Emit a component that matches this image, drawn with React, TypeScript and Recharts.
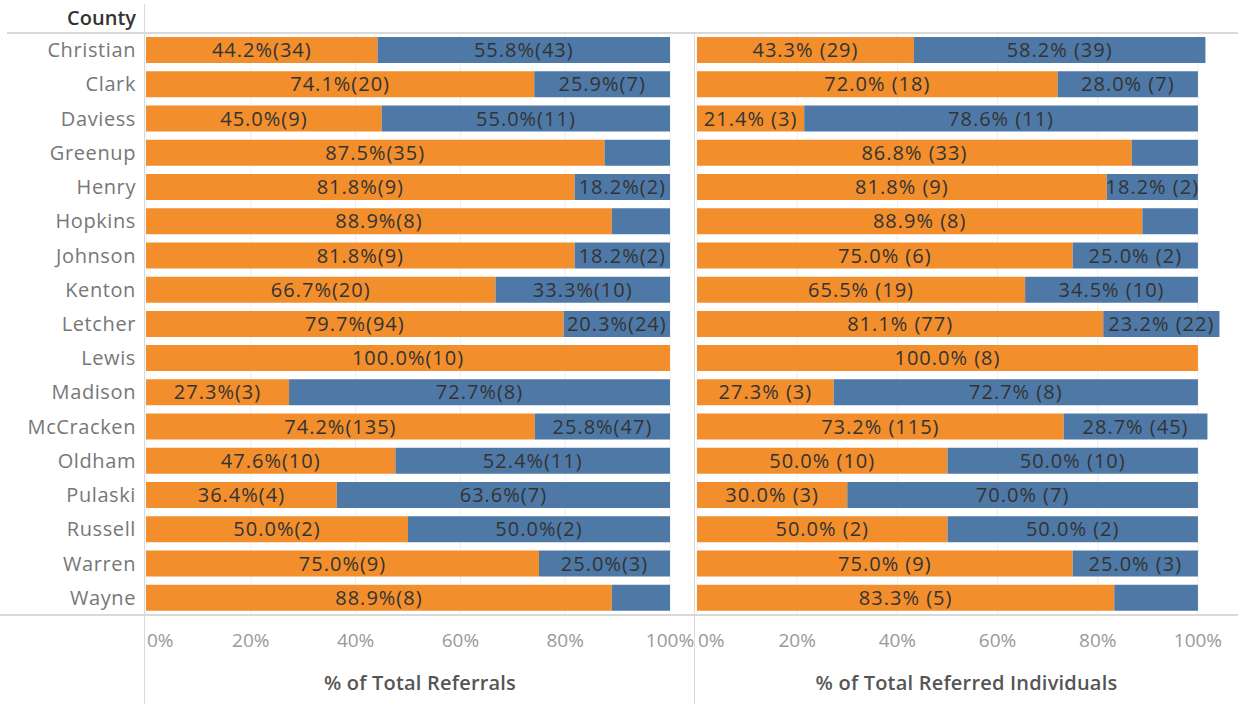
import React from "react";
import { BarChart, Bar, XAxis, YAxis, CartesianGrid, LabelList } from "recharts";

const counties = [
  "Christian", "Clark", "Daviess", "Greenup", "Henry", "Hopkins", "Johnson", "Kenton", "Letcher",
  "Lewis", "Madison", "McCracken", "Oldham", "Pulaski", "Russell", "Warren", "Wayne",
];

// % of Total Referrals
const refOrangePct = [0.442, 0.741, 0.45, 0.875, 0.818, 0.889, 0.818, 0.667, 0.797, 1.0, 0.273, 0.742, 0.476, 0.364, 0.5, 0.75, 0.889];
const refOrangeN = [34, 20, 9, 35, 9, 8, 9, 20, 94, 10, 3, 135, 10, 4, 2, 9, 8];
const refBluePct = [0.558, 0.259, 0.55, 0.125, 0.182, 0.111, 0.182, 0.333, 0.203, 0, 0.727, 0.258, 0.524, 0.636, 0.5, 0.25, 0.111];
const refBlueN = [43, 7, 11, 5, 2, 1, 2, 10, 24, 0, 8, 47, 11, 7, 2, 3, 1];

// % of Total Referred Individuals
const indOrangePct = [0.433, 0.72, 0.214, 0.868, 0.818, 0.889, 0.75, 0.655, 0.811, 1.0, 0.273, 0.732, 0.5, 0.3, 0.5, 0.75, 0.833];
const indOrangeN = [29, 18, 3, 33, 9, 8, 6, 19, 77, 8, 3, 115, 10, 3, 2, 9, 5];
const indBluePct = [0.582, 0.28, 0.786, 0.132, 0.182, 0.111, 0.25, 0.345, 0.232, 0, 0.727, 0.287, 0.5, 0.7, 0.5, 0.25, 0.167];
const indBlueN = [39, 7, 11, 5, 2, 1, 2, 10, 22, 0, 8, 45, 10, 7, 2, 3, 1];

const pctTicks = [0, 0.2, 0.4, 0.6, 0.8, 1];

const ORANGE = "#F28E2B";
const BLUE = "#4E79A7";
const FONT = "'Open Sans', sans-serif";

const fmt = (p: number, n: number, sep: string) =>
  p < 0.18 ? "" : `${(p * 100).toFixed(1)}%${sep}(${n})`;

const refData = counties.map((c, i) => ({
  county: c,
  orange: refOrangePct[i],
  blue: refBluePct[i],
  oLabel: fmt(refOrangePct[i], refOrangeN[i], ""),
  bLabel: fmt(refBluePct[i], refBlueN[i], ""),
}));

const indData = counties.map((c, i) => ({
  county: c,
  orange: indOrangePct[i],
  blue: indBluePct[i],
  oLabel: fmt(indOrangePct[i], indOrangeN[i], " "),
  bLabel: fmt(indBluePct[i], indBlueN[i], " "),
}));

const CountyTick = (props: any) => {
  const { x, y, payload } = props;
  return (
    <text x={x} y={y} dy="0.35em" textAnchor="end" fill="#777" fontSize={20} fontFamily={FONT} letterSpacing={0.6}>
      {payload.value}
    </text>
  );
};

const PctTick = (props: any) => {
  const { x, y, payload, index } = props;
  return (
    <text
      x={index === 0 ? x + 1 : x}
      y={y}
      dy="0.71em"
      textAnchor={index === 0 ? "start" : "middle"}
      fill="#999"
      fontSize={19}
      fontFamily={FONT}
    >
      {`${Math.round(payload.value * 100)}%`}
    </text>
  );
};

const labelStyle = { fill: "#333", fontSize: 20, fontFamily: FONT, letterSpacing: 1 };

const Panel = ({ data, width, left, right, max, showAxis }: any) => (
  <BarChart
    width={width}
    height={704}
    data={data}
    layout="vertical"
    margin={{ top: 33, right, bottom: 0, left }}
    barSize={26}
  >
    <CartesianGrid horizontal={false} stroke="#eee" verticalValues={pctTicks} />
    <XAxis
      type="number"
      domain={[0, max]}
      ticks={pctTicks}
      axisLine={false}
      tickLine={false}
      tickMargin={13}
      height={89}
      tick={<PctTick />}
      interval={0}
    />
    <YAxis
      type="category"
      dataKey="county"
      width={showAxis ? 146 : 0}
      hide={!showAxis}
      axisLine={false}
      tickLine={false}
      tickMargin={4}
      tick={<CountyTick />}
      interval={0}
    />
    <Bar dataKey="orange" stackId="a" fill={ORANGE} isAnimationActive={false}>
      <LabelList dataKey="oLabel" position="center" style={labelStyle} />
    </Bar>
    <Bar dataKey="blue" stackId="a" fill={BLUE} isAnimationActive={false}>
      <LabelList dataKey="bLabel" position="center" style={labelStyle} />
    </Bar>
  </BarChart>
);

const line = (s: React.CSSProperties): React.CSSProperties => ({ position: "absolute", background: "#d9d9d9", ...s });

const titleStyle: React.CSSProperties = {
  position: "absolute",
  top: 669,
  textAlign: "center",
  fontFamily: FONT,
  fontSize: 20,
  fontWeight: 600,
  color: "#555",
  letterSpacing: 0.2,
};

export default function App() {
  return (
    <div style={{ position: "absolute", left: 0, top: 0, width: 1238, height: 704, background: "#fff", overflow: "hidden" }}>
      <div style={{ position: "absolute", left: 0, top: 0 }}>
        <Panel data={refData} width={695} left={0} right={25} max={1} showAxis />
      </div>
      <div style={{ position: "absolute", left: 695, top: 0 }}>
        <Panel data={indData} width={543} left={2} right={0} max={1.08} showAxis={false} />
      </div>
      <div style={line({ left: 7, top: 32, width: 1231, height: 2 })} />
      <div style={line({ left: 0, top: 614, width: 1238, height: 2 })} />
      <div style={line({ left: 144, top: 4, width: 1, height: 700 })} />
      <div style={line({ left: 694, top: 33, width: 1, height: 671 })} />
      <div
        style={{ position: "absolute", left: 0, width: 136, top: 4, textAlign: "right", fontFamily: FONT, fontSize: 20, fontWeight: 600, color: "#333" }}
      >
        County
      </div>
      <div style={{ ...titleStyle, left: 145, width: 550 }}>% of Total Referrals</div>
      <div style={{ ...titleStyle, left: 695, width: 543 }}>% of Total Referred Individuals</div>
    </div>
  );
}
